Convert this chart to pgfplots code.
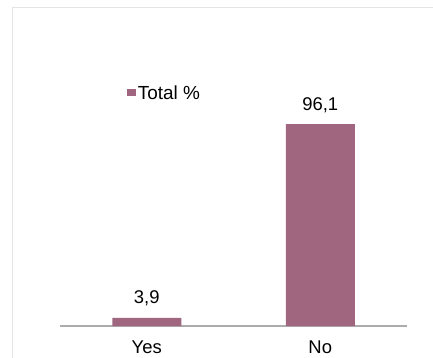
\documentclass[border=0pt]{standalone}
\usepackage{pgfplots}
\pgfplotsset{compat=1.18}
\usepackage{fontspec}
\setmainfont{Liberation Sans}
\definecolor{barcol}{RGB}{160,102,128}
\definecolor{axgray}{RGB}{172,172,172}
\definecolor{framegray}{RGB}{228,228,228}
\begin{document}
\begin{tikzpicture}[x=1bp,y=1bp]
\useasboundingbox (0,0) rectangle (433,357);
\clip (0,0) rectangle (433,357);
\draw[framegray, line width=1.2bp] (12.5,-20) -- (12.5,349.5) -- (460,349.5);
\begin{axis}[
  at={(60bp,31bp)}, anchor=south west,
  scale only axis, width=347bp, height=294bp,
  xmin=-0.5, xmax=1.5, ymin=0, ymax=140,
  ybar, bar width=69bp,
  axis x line*=bottom, axis y line=none,
  x axis line style={color=axgray, line width=1.2bp, -},
  xtick={0,1}, xticklabels={Yes,No},
  major tick length=0pt, ytick=\empty,
  x tick label style={font=\fontsize{18.5}{20}\selectfont, anchor=base, inner sep=0pt, yshift=-27.5bp},
  nodes near coords,
  nodes near coords style={font=\fontsize{18.5}{20}\selectfont, anchor=base, yshift=14bp, inner sep=0pt},
  /pgf/number format/.cd, use comma, fixed, fixed zerofill, precision=1, assume math mode=true,
  /pgfplots/.cd,
  legend style={at={(0.193,0.792)}, anchor=west, draw=none, fill=none, inner sep=0pt,
    font=\fontsize{19}{21}\selectfont, legend cell align=left},
  legend image code/.code={\fill[barcol] (0bp,-3bp) rectangle (8.7bp,4.4bp);},
]
\addplot[fill=barcol, draw=none] coordinates {(0,3.9) (1,96.1)};
\addlegendentry{Total \%}
\end{axis}
\end{tikzpicture}
\end{document}
